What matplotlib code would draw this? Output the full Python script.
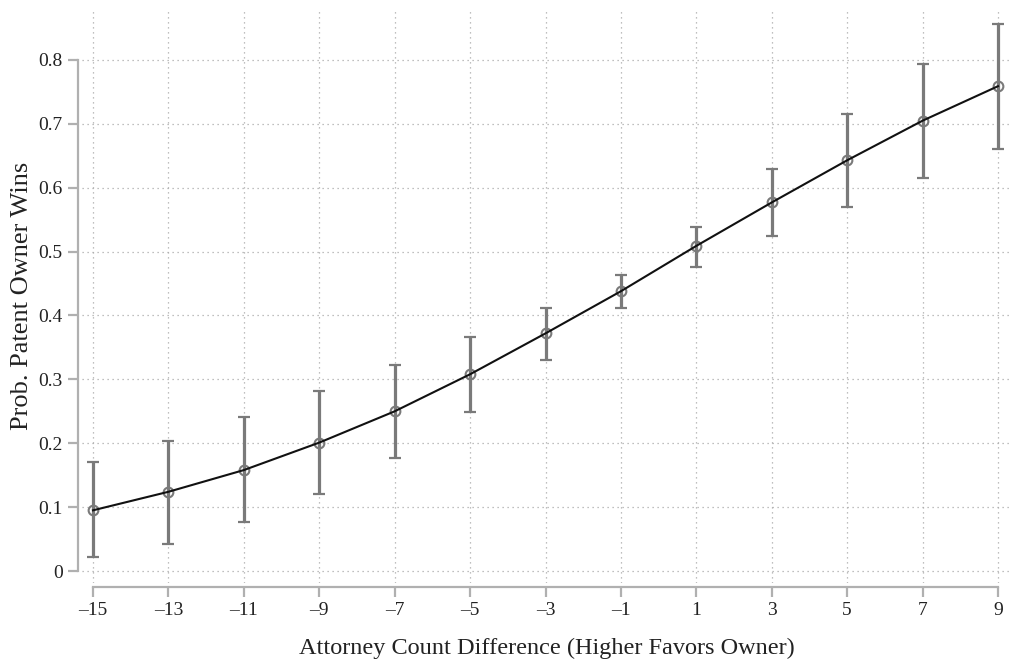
import matplotlib
matplotlib.use("Agg")
import matplotlib.pyplot as plt

# diferencia en número de abogados y probabilidad estimada
diferencia = [-15, -13, -11, -9, -7, -5, -3, -1, 1, 3, 5, 7, 9]
prob = [0.095, 0.124, 0.158, 0.201, 0.250, 0.308, 0.372, 0.438, 0.509, 0.577, 0.643, 0.705, 0.759]
ic_sup = [0.170, 0.203, 0.241, 0.282, 0.322, 0.366, 0.412, 0.463, 0.538, 0.629, 0.716, 0.793, 0.857]
ic_inf = [0.022, 0.043, 0.076, 0.120, 0.177, 0.249, 0.330, 0.412, 0.476, 0.524, 0.570, 0.615, 0.661]

yticks = [0, 0.1, 0.2, 0.3, 0.4, 0.5, 0.6, 0.7, 0.8]
ytick_labels = ["0", "0.1", "0.2", "0.3", "0.4", "0.5", "0.6", "0.7", "0.8"]

plt.rcParams["font.family"] = ["Liberation Serif", "DejaVu Serif"]

fig = plt.figure(figsize=(10.11, 6.59), dpi=100)
W, H = 1011, 659
left, right, top, bottom = 82, 1011, 8, 583
ax = fig.add_axes([left / W, 1 - bottom / H, (right - left) / W, (bottom - top) / H])

# limites calculados para que -15 caiga en x=93 px y 9 en x=998 px
px_x = (998 - 93) / 24
px_y = (571 - 60) / 0.8
ax.set_xlim(-15 - (93 - left) / px_x, 9 + (right - 998) / px_x)
ax.set_ylim(0 - (bottom - 571) / px_y, 0.8 + (60 - top) / px_y)

gris = "#7a7a7a"
err_inf = [p - l for p, l in zip(prob, ic_inf)]
err_sup = [u - p for p, u in zip(prob, ic_sup)]
ax.errorbar(diferencia, prob, yerr=[err_inf, err_sup], fmt="none", ecolor=gris,
            elinewidth=2.3, capsize=4.5, capthick=1.6, zorder=3)
ax.plot(diferencia, prob, "o", ms=7, mfc="none", mec=gris, mew=1.5, zorder=4)
ax.plot(diferencia, prob, color="#111111", lw=1.5, zorder=5)

ax.set_xticks(diferencia)
ax.set_xticklabels([str(d).replace("-", "\u2013") for d in diferencia])
ax.set_yticks(yticks)
ax.set_yticklabels(ytick_labels)

ax.grid(True, linestyle=(0, (1, 3)), color="#aaaaaa", lw=0.9)
ax.set_axisbelow(True)

for s in ["top", "right"]:
    ax.spines[s].set_visible(False)
ax.spines["left"].set_position(("outward", 3))
ax.spines["bottom"].set_position(("outward", 3))
ax.spines["left"].set_bounds(0, 0.8)
ax.spines["bottom"].set_bounds(-15, 9)
for s in ["left", "bottom"]:
    ax.spines[s].set_color("#b0b0b0")
    ax.spines[s].set_linewidth(1.6)
ax.tick_params(axis="both", length=7, width=1.6, color="#b0b0b0", labelsize=14,
               labelcolor="#222222", pad=4)

ax.set_xlabel("Attorney Count Difference (Higher Favors Owner)", fontsize=17.5, color="#222222", labelpad=13)
ax.set_ylabel("Prob. Patent Owner Wins", fontsize=19, color="#222222", labelpad=4)

fig.savefig("out.png", dpi=100)
